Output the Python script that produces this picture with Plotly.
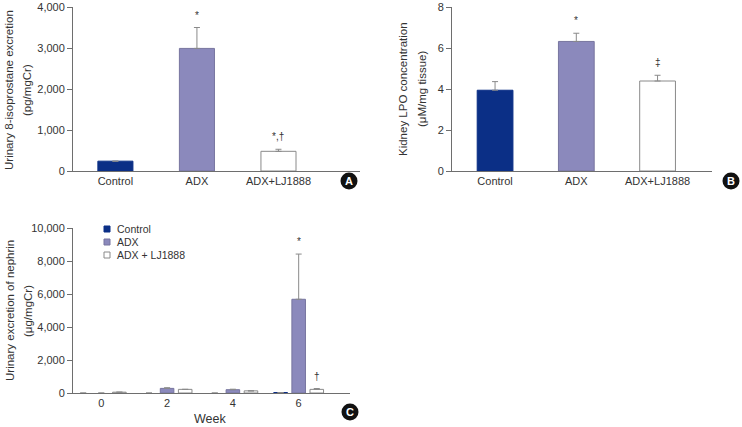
import plotly.graph_objects as go

# ---------------- data ----------------
groups = ["Control", "ADX", "ADX+LJ1888"]
iso_vals = [240, 2990, 480]
iso_err = [0, 510, 50]
iso_marks = ["", "*", "*,†"]

lpo_vals = [3.94, 6.32, 4.39]
lpo_err = [0.42, 0.40, 0.28]
lpo_marks = ["", "*", "‡"]

weeks = [0, 2, 4, 6]
neph_control = [0, 0, 0, 30]
neph_adx = [0, 280, 200, 5680]
neph_adx_err = [0, 40, 30, 2740]
neph_lj = [50, 220, 130, 220]
neph_lj_err = [0, 0, 0, 50]
week_ticks = ["0", "2", "4", "6"]

c_names = ["Control", "ADX", "ADX + LJ1888"]

a_title = ["Urinary 8-isoprostane excretion", "(pg/mgCr)"]
b_title = ["Kidney LPO concentration", "(μM/mg tissue)"]
c_title = ["Urinary excretion of nephrin", "(μg/mgCr)"]

# ---------------- styles ----------------
FONT = "Liberation Sans, Arial, sans-serif"
FS = 11
C_CTRL = "#0b2f86"
C_ADX = "#8b89bc"
C_LJ = "#ffffff"
EDGE = "#8a8a8a"
AX = "#6e6e6e"
TXT = "#333333"
W, H = 742, 427


def px_x(p):
    return p / W


def px_y(p):
    return 1 - p / H


def err_spec(errs):
    arr = [e if e > 0 else None for e in errs]
    return dict(type="data", array=arr, arrayminus=[0 if e is not None else None for e in arr],
                symmetric=False, color=EDGE, thickness=1, width=3)


fig = go.Figure()

bar_colors = [C_CTRL, C_ADX, C_LJ]
line_colors = [C_CTRL, "#77759f", EDGE]

# Panel A
fig.add_trace(go.Bar(
    x=groups, y=iso_vals, xaxis="x", yaxis="y", width=0.43,
    marker=dict(color=bar_colors, line=dict(color=line_colors, width=1)),
    error_y=err_spec(iso_err), showlegend=False, hoverinfo="skip"))

# Panel B
fig.add_trace(go.Bar(
    x=groups, y=lpo_vals, xaxis="x2", yaxis="y2", width=0.44,
    marker=dict(color=bar_colors, line=dict(color=line_colors, width=1)),
    error_y=err_spec(lpo_err), showlegend=False, hoverinfo="skip"))

# Panel C
series = [
    (c_names[0], neph_control, [0, 0, 0, 0], C_CTRL, C_CTRL),
    (c_names[1], neph_adx, neph_adx_err, C_ADX, "#77759f"),
    (c_names[2], neph_lj, neph_lj_err, C_LJ, EDGE),
]
for name, vals, errs, col, lc in series:
    fig.add_trace(go.Bar(
        x=weeks, y=vals, name=name, xaxis="x3", yaxis="y3",
        marker=dict(color=col, line=dict(color=lc, width=[1 if v > 0 else 0 for v in vals])),
        error_y=err_spec(errs), showlegend=False, hoverinfo="skip"))

axis_common = dict(showline=True, linecolor=AX, linewidth=1, showgrid=False,
                   zeroline=False, automargin=False,
                   tickfont=dict(family=FONT, size=FS, color=TXT))

fig.update_layout(
    width=W, height=H,
    margin=dict(l=0, r=0, t=0, b=0, autoexpand=False),
    plot_bgcolor="white", paper_bgcolor="white",
    font=dict(family=FONT, color=TXT),
    barmode="group", bargap=0.175, bargroupgap=0.25,
    showlegend=False,
    xaxis=dict(domain=[px_x(73), px_x(360)], anchor="y", range=[-0.52, 3.0],
               ticks="", **axis_common),
    yaxis=dict(domain=[px_y(171), px_y(7)], anchor="x", range=[0, 4000],
               tickvals=[0, 1000, 2000, 3000, 4000], tickformat=",",
               ticks="outside", ticklen=5, tickcolor=AX, **axis_common),
    xaxis2=dict(domain=[px_x(452), px_x(712)], anchor="y2", range=[-0.53, 2.67],
                ticks="", **axis_common),
    yaxis2=dict(domain=[px_y(171), px_y(7)], anchor="x2", range=[0, 8],
                tickvals=[0, 2, 4, 6, 8],
                ticks="outside", ticklen=5, tickcolor=AX, **axis_common),
    xaxis3=dict(domain=[px_x(73), px_x(350)], anchor="y3", range=[-0.86, 7.56],
                tickvals=weeks, ticktext=week_ticks, ticks="", **axis_common),
    yaxis3=dict(domain=[px_y(393), px_y(228)], anchor="x3", range=[0, 10000],
                tickvals=[0, 2000, 4000, 6000, 8000, 10000], tickformat=",",
                ticks="outside", ticklen=5, tickcolor=AX, **axis_common),
)

ann = []
mark_font = dict(family=FONT, size=10, color=TXT)
# significance marks
for g, v, e, m in zip(groups, iso_vals, iso_err, iso_marks):
    if m:
        ann.append(dict(x=g, y=v + e, xref="x", yref="y", text=m, showarrow=False,
                        xanchor="center", yanchor="bottom", yshift=5, font=mark_font))
for g, v, e, m in zip(groups, lpo_vals, lpo_err, lpo_marks):
    if m:
        ann.append(dict(x=g, y=v + e, xref="x2", yref="y2", text=m, showarrow=False,
                        xanchor="center", yanchor="bottom", yshift=5, font=mark_font))
ann.append(dict(x=weeks[3], y=neph_adx[3] + neph_adx_err[3], xref="x3", yref="y3", text="*",
                showarrow=False, xanchor="center", yanchor="bottom", yshift=5, font=mark_font))
ann.append(dict(x=weeks[3], y=neph_lj[3] + neph_lj_err[3], xref="x3", yref="y3", text="†",
                showarrow=False, xanchor="center", yanchor="bottom", yshift=5, xshift=18,
                font=mark_font))

title_font = dict(family=FONT, size=11.5, color=TXT)
# axis titles (two lines each)
for lines, xs, yc in [(a_title, (9, 27), 90), (b_title, (403, 422), 89), (c_title, (10, 28), 311)]:
    for txt, xx in zip(lines, xs):
        ann.append(dict(x=px_x(xx), y=px_y(yc), xref="paper", yref="paper", textangle=-90,
                        xanchor="center", yanchor="middle", text=txt, showarrow=False,
                        font=title_font))
ann.append(dict(x=px_x(210), y=px_y(419), xref="paper", yref="paper", text="Week",
                xanchor="center", yanchor="middle",
                showarrow=False, font=dict(family=FONT, size=12.5, color=TXT)))

shapes = []
# manual legend for panel C
leg_y = [229, 242, 255]
leg_fill = [C_CTRL, C_ADX, C_LJ]
leg_line = [C_CTRL, "#77759f", EDGE]
for name, yy, fc, lc in zip(c_names, leg_y, leg_fill, leg_line):
    shapes.append(dict(type="rect", xref="paper", yref="paper",
                       xsizemode="pixel", ysizemode="pixel",
                       xanchor=px_x(107), yanchor=px_y(yy),
                       x0=-3, x1=3, y0=-3, y1=3,
                       fillcolor=fc, line=dict(color=lc, width=1)))
    ann.append(dict(x=px_x(115), y=px_y(yy), xref="paper", yref="paper", text=name,
                    xanchor="left", yanchor="middle", showarrow=False,
                    font=dict(family=FONT, size=10.5, color=TXT)))

for lab, cx, cy in [("A", 349, 181), ("B", 731, 181), ("C", 350, 412)]:
    shapes.append(dict(type="circle", xref="paper", yref="paper",
                       xsizemode="pixel", ysizemode="pixel",
                       xanchor=px_x(cx), yanchor=px_y(cy),
                       x0=-8.5, x1=8.5, y0=-8.5, y1=8.5,
                       fillcolor="#111111", line=dict(color="#111111", width=0)))
    ann.append(dict(x=px_x(cx), y=px_y(cy), xref="paper", yref="paper", text="<b>" + lab + "</b>",
                    xanchor="center", yanchor="middle",
                    showarrow=False, font=dict(family=FONT, size=11, color="white")))

fig.update_layout(annotations=ann, shapes=shapes)
fig.write_html("out.html", config={"displayModeBar": False},
               post_script="document.body.style.margin='0';document.body.style.padding='0';")
